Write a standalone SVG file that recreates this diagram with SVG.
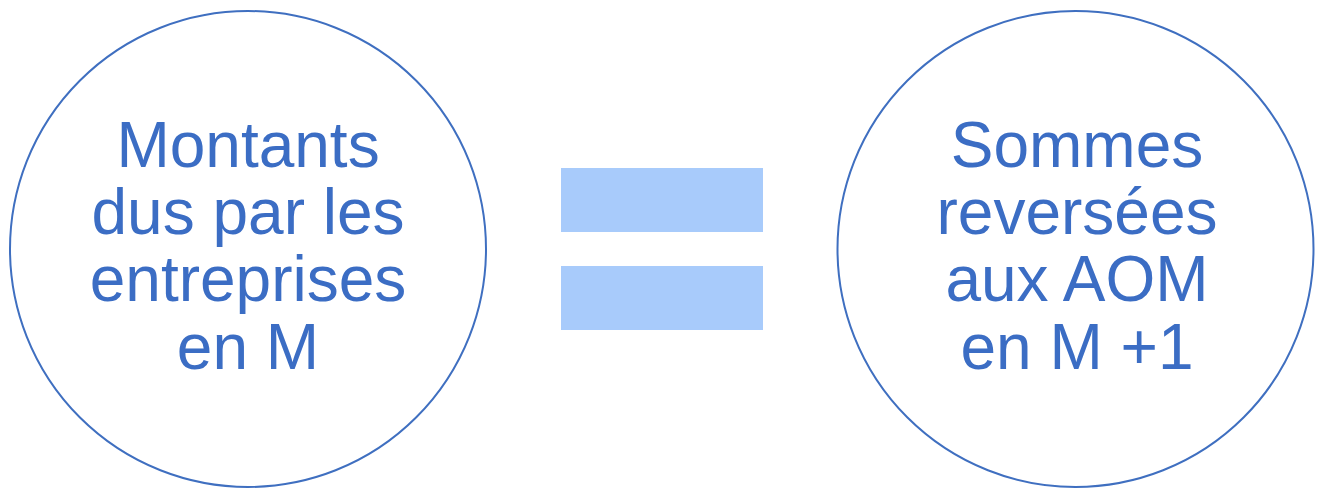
<svg xmlns="http://www.w3.org/2000/svg" width="1319" height="490" viewBox="0 0 1319 490">
<style>
.c{fill:#ffffff;stroke:#3f6fc0;stroke-width:2}
.t{font-family:"Liberation Sans",Arial,sans-serif;font-size:64px;fill:#3b6dc4;text-anchor:middle}
.b{fill:#a8cbfb}
</style>
<rect width="1319" height="490" fill="#ffffff"/>
<g id="left">
<circle class="c" cx="248" cy="249" r="238"/>
<text class="t" x="248" y="167">Montants</text>
<text class="t" x="248" y="234">dus par les</text>
<text class="t" x="248" y="301">entreprises</text>
<text class="t" x="248" y="369">en M</text>
</g>
<g id="equals">
<rect class="b" x="561" y="168" width="202" height="64"/>
<rect class="b" x="561" y="266" width="202" height="64"/>
</g>
<g id="right">
<circle class="c" cx="1075.5" cy="249" r="238"/>
<text class="t" x="1077" y="167">Sommes</text>
<text class="t" x="1077" y="234">reversées</text>
<text class="t" x="1077" y="301">aux AOM</text>
<text class="t" x="1077" y="369">en M +1</text>
</g>
<g id="connectors"></g>
</svg>
